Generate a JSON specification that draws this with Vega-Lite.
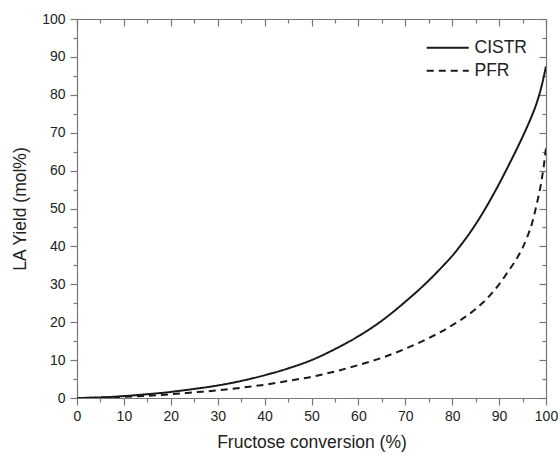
{
  "$schema": "https://vega.github.io/schema/vega-lite/v6.json",
  "autosize": "none",
  "width": 469,
  "height": 379,
  "padding": {"left": 77, "top": 19, "right": 14, "bottom": 57},
  "background": "white",
  "config": {
    "view": {"stroke": null},
    "font": "Liberation Sans",
    "axis": {"grid": false, "domainColor": "#777", "tickColor": "#777", "domainWidth": 1.2, "tickWidth": 1.2, "labelColor": "#222", "titleColor": "#222", "labelFont": "Liberation Sans", "titleFont": "Liberation Sans", "labelFontSize": 14, "titleFontSize": 17.5, "titleFontWeight": "normal"}
  },
  "data": {"values": [
    {"conv": 0, "yield": 0, "series": "CISTR"},
    {"conv": 5, "yield": 0.15, "series": "CISTR"},
    {"conv": 10, "yield": 0.5, "series": "CISTR"},
    {"conv": 15, "yield": 1.0, "series": "CISTR"},
    {"conv": 20, "yield": 1.6, "series": "CISTR"},
    {"conv": 25, "yield": 2.4, "series": "CISTR"},
    {"conv": 30, "yield": 3.3, "series": "CISTR"},
    {"conv": 35, "yield": 4.5, "series": "CISTR"},
    {"conv": 40, "yield": 6.0, "series": "CISTR"},
    {"conv": 45, "yield": 7.8, "series": "CISTR"},
    {"conv": 50, "yield": 10.0, "series": "CISTR"},
    {"conv": 55, "yield": 12.9, "series": "CISTR"},
    {"conv": 60, "yield": 16.3, "series": "CISTR"},
    {"conv": 65, "yield": 20.4, "series": "CISTR"},
    {"conv": 70, "yield": 25.4, "series": "CISTR"},
    {"conv": 75, "yield": 31.0, "series": "CISTR"},
    {"conv": 78, "yield": 34.8, "series": "CISTR"},
    {"conv": 80, "yield": 37.5, "series": "CISTR"},
    {"conv": 82, "yield": 40.6, "series": "CISTR"},
    {"conv": 84, "yield": 44.0, "series": "CISTR"},
    {"conv": 86, "yield": 47.8, "series": "CISTR"},
    {"conv": 88, "yield": 52.0, "series": "CISTR"},
    {"conv": 90, "yield": 56.5, "series": "CISTR"},
    {"conv": 92, "yield": 61.3, "series": "CISTR"},
    {"conv": 94, "yield": 66.3, "series": "CISTR"},
    {"conv": 96, "yield": 71.6, "series": "CISTR"},
    {"conv": 97, "yield": 74.5, "series": "CISTR"},
    {"conv": 98, "yield": 77.8, "series": "CISTR"},
    {"conv": 99, "yield": 82.0, "series": "CISTR"},
    {"conv": 100, "yield": 87.5, "series": "CISTR"},
    {"conv": 0, "yield": 0, "series": "PFR"},
    {"conv": 5, "yield": 0.1, "series": "PFR"},
    {"conv": 10, "yield": 0.3, "series": "PFR"},
    {"conv": 15, "yield": 0.6, "series": "PFR"},
    {"conv": 20, "yield": 1.0, "series": "PFR"},
    {"conv": 25, "yield": 1.5, "series": "PFR"},
    {"conv": 30, "yield": 2.0, "series": "PFR"},
    {"conv": 35, "yield": 2.7, "series": "PFR"},
    {"conv": 40, "yield": 3.5, "series": "PFR"},
    {"conv": 45, "yield": 4.5, "series": "PFR"},
    {"conv": 50, "yield": 5.6, "series": "PFR"},
    {"conv": 55, "yield": 7.0, "series": "PFR"},
    {"conv": 60, "yield": 8.7, "series": "PFR"},
    {"conv": 65, "yield": 10.6, "series": "PFR"},
    {"conv": 70, "yield": 13.0, "series": "PFR"},
    {"conv": 75, "yield": 15.8, "series": "PFR"},
    {"conv": 80, "yield": 19.2, "series": "PFR"},
    {"conv": 85, "yield": 23.5, "series": "PFR"},
    {"conv": 88, "yield": 27.0, "series": "PFR"},
    {"conv": 90, "yield": 30.0, "series": "PFR"},
    {"conv": 92, "yield": 33.5, "series": "PFR"},
    {"conv": 94, "yield": 37.3, "series": "PFR"},
    {"conv": 95, "yield": 39.6, "series": "PFR"},
    {"conv": 96, "yield": 42.5, "series": "PFR"},
    {"conv": 97, "yield": 46.0, "series": "PFR"},
    {"conv": 98, "yield": 51.0, "series": "PFR"},
    {"conv": 99, "yield": 57.0, "series": "PFR"},
    {"conv": 99.5, "yield": 61.0, "series": "PFR"},
    {"conv": 100, "yield": 66.0, "series": "PFR"}
  ]},
  "layer": [
    {
      "mark": {"type": "line", "interpolate": "monotone", "color": "#1a1a1a", "strokeWidth": 2, "clip": true},
      "encoding": {
        "x": {"field": "conv", "type": "quantitative", "scale": {"domain": [0, 100], "nice": false},
          "axis": {"orient": "bottom", "values": [0,5,10,15,20,25,30,35,40,45,50,55,60,65,70,75,80,85,90,95,100],
            "labelExpr": "datum.value % 10 === 0 ? datum.label : ''",
            "tickSize": {"condition": {"test": "datum.value % 10 !== 0", "value": 4}, "value": 7},
            "labelPadding": 4, "title": "Fructose conversion (%)", "titlePadding": 10, "labelFlush": false}},
        "y": {"field": "yield", "type": "quantitative", "scale": {"domain": [0, 100], "nice": false},
          "axis": {"orient": "left", "values": [0,5,10,15,20,25,30,35,40,45,50,55,60,65,70,75,80,85,90,95,100],
            "labelExpr": "datum.value % 10 === 0 ? datum.label : ''",
            "tickSize": {"condition": {"test": "datum.value % 10 !== 0", "value": 4}, "value": 7},
            "labelPadding": 5, "title": "LA Yield (mol%)", "titlePadding": 12, "labelFlush": false}},
        "strokeDash": {"field": "series", "type": "nominal",
          "scale": {"domain": ["CISTR", "PFR"], "range": [[1, 0], [7, 5]]},
          "legend": {"title": null, "orient": "none", "legendX": 362, "legendY": 20, "padding": 0,
            "symbolType": "M-3,0H3", "symbolSize": 196, "symbolStrokeWidth": 2, "symbolStrokeColor": "#1a1a1a",
            "labelFontSize": 17.5, "labelColor": "#222", "labelFont": "Liberation Sans", "labelOffset": 18, "rowPadding": 4}}
      }
    },
    {
      "mark": {"type": "line", "opacity": 0},
      "encoding": {
        "x": {"field": "conv", "type": "quantitative",
          "axis": {"orient": "top", "values": [0,5,10,15,20,25,30,35,40,45,50,55,60,65,70,75,80,85,90,95,100],
            "tickSize": {"condition": {"test": "datum.value % 10 !== 0", "value": -4}, "value": -7}, "labels": false, "title": null}},
        "y": {"field": "yield", "type": "quantitative",
          "axis": {"orient": "right", "values": [0,5,10,15,20,25,30,35,40,45,50,55,60,65,70,75,80,85,90,95,100],
            "tickSize": {"condition": {"test": "datum.value % 10 !== 0", "value": -4}, "value": -7}, "labels": false, "title": null}}
      }
    }
  ],
  "resolve": {"axis": {"x": "independent", "y": "independent"}}
}
